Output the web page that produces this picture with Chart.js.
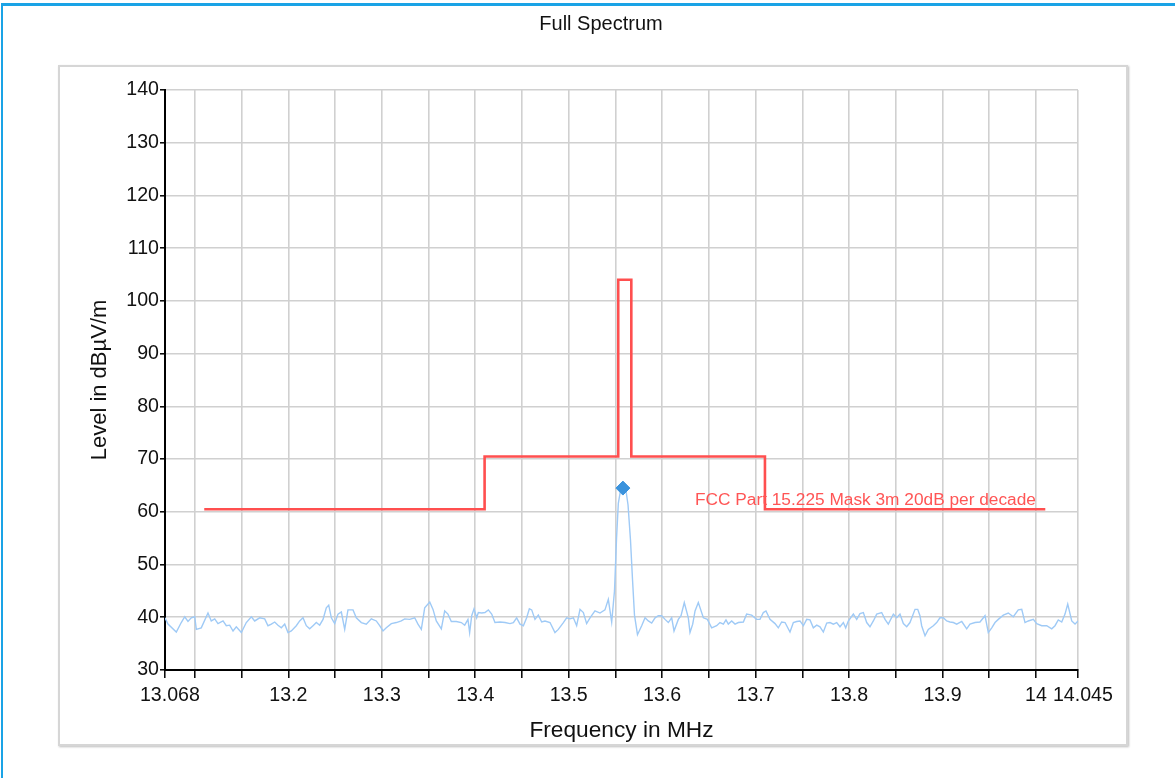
<!DOCTYPE html>
<html>
<head>
<meta charset="utf-8">
<title>Full Spectrum</title>
<script src="https://cdn.jsdelivr.net/npm/chart.js@4.4.1/dist/chart.umd.min.js"></script>
<style>
  html, body { margin: 0; padding: 0; background: #fff; }
  #page { position: relative; width: 1175px; height: 778px; overflow: hidden; }
  #edge { position: absolute; left: 1px; top: 3px; width: 1174px; height: 775px;
          border-top: 3px solid #1aa3e6; border-left: 2px solid #1aa3e6; box-sizing: border-box; }
  #frame { position: absolute; left: 58px; top: 65px; width: 1070px; height: 681px;
           border: 2px solid #d6d6d6; box-sizing: border-box; box-shadow: 1px 1px 2px #bdbdbd; }
  #plot { position: absolute; left: 0; top: 0; }
</style>
</head>
<body>
<div id="page">
  <div id="edge"></div>
  <div id="frame"></div>
  <canvas id="plot" width="1175" height="778"></canvas>
</div>
<script>
// measured trace (MHz / dBµV/m)
let traceFreq = [
  13.068, 13.0712, 13.0801, 13.0854, 13.0891, 13.0926, 13.0961, 13.0998, 13.1015, 13.1068,
  13.114, 13.1175, 13.1212, 13.1247, 13.1301, 13.1336, 13.1372, 13.1408, 13.1443, 13.1497,
  13.155, 13.1604, 13.164, 13.1693, 13.1747, 13.1782, 13.1818, 13.1854, 13.1889, 13.1925,
  13.1961, 13.1996, 13.2032, 13.2085, 13.2121, 13.2157, 13.2192, 13.2228, 13.2264, 13.2299,
  13.2335, 13.2371, 13.2406, 13.2432, 13.246, 13.2496, 13.2531, 13.2567, 13.2603, 13.2638,
  13.2692, 13.2727, 13.2781, 13.2834, 13.2888, 13.2941, 13.2977, 13.3013, 13.3048, 13.3102,
  13.3155, 13.3209, 13.3245, 13.3299, 13.3352, 13.3387, 13.3423, 13.3459, 13.3513, 13.3548,
  13.3583, 13.3637, 13.3673, 13.3708, 13.3744, 13.3797, 13.3851, 13.3887, 13.3922, 13.394,
  13.3962, 13.3987, 13.4015, 13.4033, 13.4069, 13.4104, 13.414, 13.4176, 13.4211, 13.4265,
  13.4318, 13.4372, 13.4408, 13.4443, 13.4479, 13.4515, 13.455, 13.4579, 13.4604, 13.4639,
  13.4675, 13.4711, 13.4746, 13.48, 13.4853, 13.4889, 13.4943, 13.4978, 13.5014, 13.505,
  13.5085, 13.5121, 13.5157, 13.5192, 13.5228, 13.5281, 13.5335, 13.5388, 13.5424, 13.546,
  13.549, 13.5512, 13.5531, 13.5554, 13.5581, 13.5613, 13.5635, 13.5661, 13.5683, 13.5704,
  13.5736, 13.5781, 13.5817, 13.5852, 13.5888, 13.5924, 13.5959, 13.5995, 13.6031, 13.6066,
  13.6102, 13.6127, 13.6173, 13.6202, 13.6237, 13.628, 13.6298, 13.6327, 13.6352, 13.6387,
  13.6441, 13.6484, 13.653, 13.6583, 13.6619, 13.6655, 13.6683, 13.6708, 13.6744, 13.678,
  13.6815, 13.6869, 13.6904, 13.6958, 13.7011, 13.7047, 13.7083, 13.7111, 13.7154, 13.7208,
  13.7243, 13.7279, 13.7315, 13.7368, 13.7404, 13.744, 13.7475, 13.7511, 13.7547, 13.7582,
  13.7618, 13.7654, 13.7689, 13.7725, 13.7761, 13.7796, 13.7832, 13.7868, 13.7903, 13.7939,
  13.7964, 13.7992, 13.8046, 13.8082, 13.8117, 13.8153, 13.8189, 13.8224, 13.826, 13.8296,
  13.8349, 13.8385, 13.842, 13.8474, 13.851, 13.8545, 13.8581, 13.8617, 13.8652, 13.8706,
  13.8735, 13.8759, 13.8777, 13.8813, 13.8848, 13.8902, 13.8938, 13.8973, 13.9009, 13.9045,
  13.908, 13.9116, 13.9152, 13.9206, 13.9259, 13.9294, 13.9348, 13.9401, 13.9455, 13.949,
  13.9527, 13.9562, 13.9597, 13.9651, 13.9704, 13.9758, 13.9811, 13.9848, 13.9883, 13.9918,
  13.9972, 14.0008, 14.0062, 14.0115, 14.0169, 14.0204, 14.0239, 14.0276, 14.0311, 14.034,
  14.0383, 14.0418, 14.045
];
let traceLevel = [
  39.9, 38.7, 37.2, 39.0, 40.1, 39.2, 39.9, 40.1, 37.7, 38.0,
  40.8, 39.3, 39.7, 38.8, 39.3, 38.4, 38.5, 37.4, 38.2, 37.1,
  39.0, 40.1, 39.3, 39.9, 39.7, 38.4, 38.7, 39.1, 38.5, 38.0,
  38.7, 37.1, 37.4, 38.4, 39.3, 39.9, 38.4, 37.8, 38.4, 39.0,
  38.5, 39.6, 41.8, 42.3, 39.9, 38.8, 40.6, 41.0, 37.7, 41.4,
  41.4, 39.9, 39.0, 38.7, 39.7, 39.3, 38.4, 37.4, 38.0, 38.8,
  39.0, 39.3, 39.7, 39.6, 39.9, 38.7, 37.7, 41.8, 42.9, 41.5,
  39.3, 37.8, 41.2, 40.6, 39.2, 39.2, 39.0, 38.5, 39.6, 37.1,
  40.3, 41.6, 39.9, 40.9, 40.8, 40.9, 41.4, 40.6, 39.0, 39.1,
  39.0, 38.8, 39.0, 39.9, 38.7, 38.4, 39.9, 41.6, 41.4, 39.6,
  40.4, 39.1, 39.3, 39.0, 37.1, 37.7, 39.0, 39.9, 39.7, 39.9,
  38.4, 41.5, 40.9, 38.8, 39.9, 41.2, 40.8, 41.4, 43.4, 39.1,
  45.0, 55.0, 61.6, 64.0, 64.7, 64.0, 61.3, 54.7, 47.1, 40.4,
  36.7, 38.4, 39.9, 39.3, 38.9, 39.9, 40.3, 40.3, 39.6, 39.0,
  39.9, 37.4, 39.6, 40.3, 42.8, 39.9, 37.1, 38.7, 41.2, 42.8,
  39.9, 39.6, 38.0, 38.4, 39.0, 38.7, 39.5, 38.7, 39.3, 38.7,
  39.0, 39.1, 40.6, 40.4, 39.6, 39.6, 40.9, 41.2, 39.6, 38.8,
  38.0, 39.1, 39.0, 37.2, 39.0, 39.2, 39.3, 38.4, 39.6, 39.5,
  38.0, 38.5, 38.2, 37.2, 38.9, 39.0, 38.7, 39.0, 38.2, 39.0,
  38.0, 39.3, 40.6, 39.6, 40.7, 40.9, 39.0, 38.2, 39.3, 40.6,
  40.9, 39.6, 38.7, 40.6, 39.9, 40.6, 38.8, 38.2, 39.0, 41.5,
  41.5, 40.3, 38.4, 36.5, 37.7, 38.4, 39.0, 39.9, 39.9, 39.3,
  39.1, 39.0, 38.7, 39.2, 37.8, 38.7, 39.0, 39.1, 40.3, 37.1,
  38.0, 39.0, 39.6, 40.4, 40.8, 40.1, 41.4, 41.5, 39.0, 39.3,
  39.6, 38.8, 38.4, 38.4, 37.8, 38.4, 39.5, 39.1, 40.6, 42.5,
  39.3, 38.7, 39.3
];

// FCC Part 15.225 limit line, 3 m, 20 dB per decade
let maskLabel = 'FCC Part 15.225 Mask 3m 20dB per decade';
let maskFreq = [13.11, 13.41, 13.41, 13.553, 13.553, 13.567, 13.567, 13.71, 13.71, 14.01];
let maskLevel = [60.5, 60.5, 70.5, 70.5, 104, 104, 70.5, 70.5, 60.5, 60.5];

// peak marker
let markerFreq = [13.558];
let markerLevel = [64.5];

// axis ticks
let xTickValues = [13.068, 13.1, 13.15, 13.2, 13.25, 13.3, 13.35, 13.4, 13.45, 13.5, 13.55,
  13.6, 13.65, 13.7, 13.75, 13.8, 13.85, 13.9, 13.95, 14, 14.045];
let xTickLabels = [13.068, 13.2, 13.3, 13.4, 13.5, 13.6, 13.7, 13.8, 13.9, 14, 14.045];
let xEndLabels = [13.068, 14.045];
let yMin = 30, yMax = 140, yStep = 5, yLabelStep = 10;

let toPoints = (xs, ys) => xs.map((x, i) => ({x: x, y: ys[i]}));

let fontFamily = "'Liberation Sans', Arial, sans-serif";

// range end labels get an en space in front so they sit a little to the right
let xLabel = (value) => {
  if (!xTickLabels.includes(value)) return '';
  return xEndLabels.includes(value) ? '\u2002' + value : String(value);
};

// chart title and the mask caption
let textPlugin = {
  id: 'texts',
  afterDatasetsDraw: (chart) => {
    let ctx = chart.ctx;
    let xs = chart.scales.x, ys = chart.scales.y;
    ctx.save();
    ctx.fillStyle = '#ff5555';
    ctx.font = '17.3px ' + fontFamily;
    ctx.textAlign = 'right';
    ctx.textBaseline = 'alphabetic';
    ctx.fillText(maskLabel, xs.getPixelForValue(14), ys.getPixelForValue(60.5) - 4);
    ctx.restore();
  },
  afterDraw: (chart) => {
    let ctx = chart.ctx;
    ctx.save();
    ctx.fillStyle = '#111';
    ctx.font = '20px ' + fontFamily;
    ctx.textAlign = 'center';
    ctx.textBaseline = 'middle';
    ctx.fillText('Full Spectrum', 601, 24);
    ctx.restore();
  }
};

let plotRef = document.getElementById('plot');
let config = {
  type: 'line',
  data: {
    datasets: [
      {
        label: 'Peak',
        data: toPoints(markerFreq, markerLevel),
        showLine: false,
        pointStyle: 'rectRot',
        pointRadius: 7,
        backgroundColor: '#3b93dd',
        borderColor: '#3b93dd',
        borderWidth: 1
      },
      {
        label: maskLabel,
        data: toPoints(maskFreq, maskLevel),
        borderColor: '#ff4f4f',
        borderWidth: 2.6,
        pointRadius: 0,
        tension: 0
      },
      {
        label: 'Level',
        data: toPoints(traceFreq, traceLevel),
        borderColor: '#9fcaf6',
        borderWidth: 1.4,
        pointRadius: 0,
        tension: 0
      }
    ]
  },
  options: {
    responsive: false,
    animation: false,
    layout: { padding: { left: 87, top: 90, right: 97, bottom: 34 } },
    plugins: {
      legend: { display: false },
      tooltip: { enabled: false },
      title: { display: false }
    },
    scales: {
      x: {
        type: 'linear',
        min: 13.068,
        max: 14.045,
        afterBuildTicks: (axis) => { axis.ticks = xTickValues.map(v => ({value: v})); },
        afterFit: (axis) => { axis.height = 74; },
        ticks: {
          autoSkip: false,
          maxRotation: 0,
          padding: 6,
          color: '#111',
          font: { family: fontFamily, size: 19.6 },
          callback: xLabel
        },
        grid: { color: '#d0d0d0', lineWidth: 1.6, tickColor: '#000', tickLength: 8, tickWidth: 1.5 },
        border: { color: '#000', width: 2 },
        title: {
          display: true,
          text: 'Frequency in MHz',
          color: '#111',
          font: { family: fontFamily, size: 22.7 },
          padding: 0
        }
      },
      y: {
        type: 'linear',
        min: yMin,
        max: yMax,
        afterFit: (axis) => { axis.width = 78; },
        ticks: {
          stepSize: yStep,
          padding: 1,
          color: '#111',
          font: { family: fontFamily, size: 19.6 },
          callback: (value) => value % yLabelStep === 0 ? String(value) : ''
        },
        grid: { color: '#d0d0d0', lineWidth: 1.6, tickColor: '#000', tickLength: 5, tickWidth: 1.5 },
        border: { color: '#000', width: 2 },
        title: {
          display: true,
          text: 'Level in dBµV/m',
          color: '#111',
          font: { family: fontFamily, size: 22 },
          padding: 0
        }
      }
    }
  },
  plugins: [textPlugin]
};

let chart = new Chart(plotRef, config);
</script>
</body>
</html>
